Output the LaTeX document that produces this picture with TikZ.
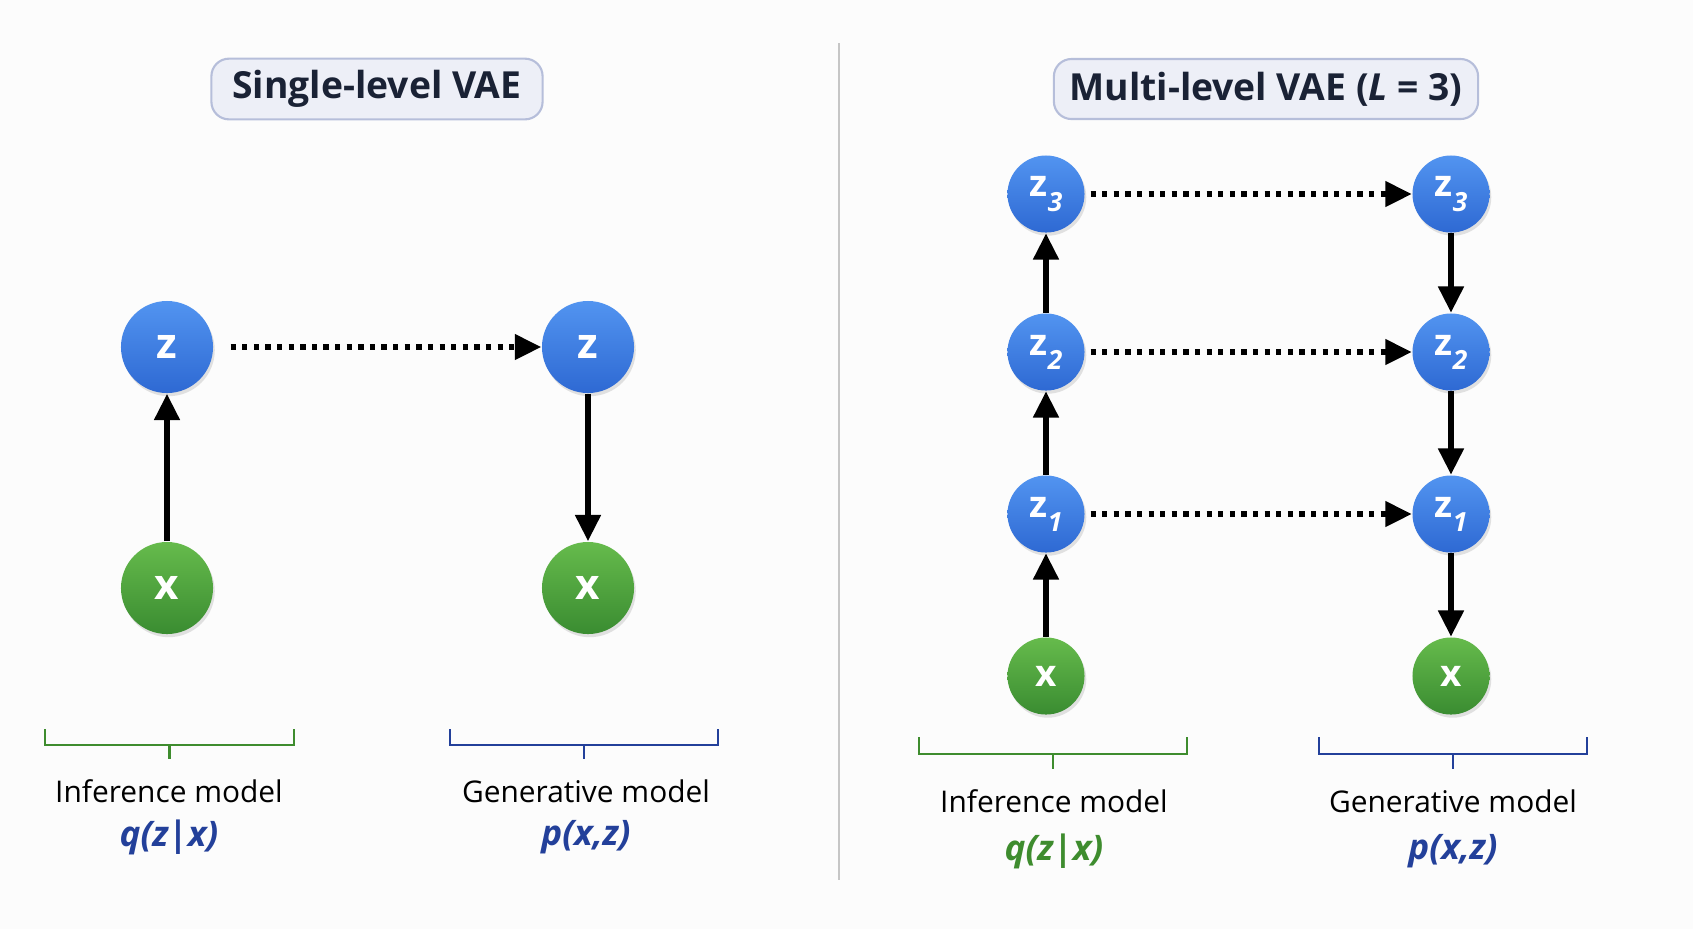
\documentclass[tikz,border=0pt]{standalone}
\usepackage{fontspec}
\setmainfont{Open Sans}
\usetikzlibrary{arrows.meta,shadows}

\definecolor{zbluetop}{HTML}{5294F0}
\definecolor{zbluebot}{HTML}{2E69D3}
\definecolor{xgreentop}{HTML}{66BB4C}
\definecolor{xgreenbot}{HTML}{3A8C31}
\definecolor{infgreen}{HTML}{3E8C2E}
\definecolor{genblue}{HTML}{23409A}
\definecolor{titlefill}{HTML}{EDEFF7}
\definecolor{titledraw}{HTML}{B6BEDA}
\definecolor{titletext}{HTML}{1A2235}

\begin{document}
\begin{tikzpicture}[x=0.01cm,y=-0.01cm,
    >={Triangle[length=7.5pt,width=7pt]},
    nodeshadow/.style={drop shadow={opacity=0.22,shadow xshift=0.5pt,shadow yshift=-0.9pt}},
    zbig/.style={circle,minimum size=0.92cm,inner sep=0pt,top color=zbluetop,bottom color=zbluebot,
        text=white,font=\fontsize{12}{12}\selectfont\bfseries,nodeshadow},
    xbig/.style={zbig,top color=xgreentop,bottom color=xgreenbot},
    zsmall/.style={zbig,minimum size=0.77cm,font=\fontsize{10.5}{10.5}\selectfont\bfseries},
    xsmall/.style={zsmall,top color=xgreentop,bottom color=xgreenbot},
    arrow/.style={->,line width=1.7pt},
    dotarrow/.style={->,line width=1.5pt,dash pattern=on 1.5pt off 1.8pt},
    titlebox/.style={draw=titledraw,fill=titlefill,rounded corners=5pt,line width=0.6pt,
        text=titletext,font=\fontsize{10.6}{13}\selectfont\bfseries},
    modeltext/.style={font=\fontsize{8.5}{10}\selectfont},
    formula/.style={font=\fontsize{10}{11}\selectfont\bfseries\itshape},
    brace/.style={line width=0.7pt}
]
\useasboundingbox (0,0) rectangle (1693,929);
\fill[white!98!gray] (0,0) rectangle (1693,929);

% Divider
\draw[gray!45,line width=0.6pt] (839,43) -- (839,880);

% Titles
\node[titlebox,minimum width=3.31cm,minimum height=0.6cm] (title1) at (377,89) {Single-level VAE};
\node[titlebox,minimum width=4.24cm,minimum height=0.6cm] (title2) at (1266,89) {Multi-level VAE (\textit{L} = 3)};

% Single-level: inference side
\node[zbig] (zq) at (167,347) {z};
\node[xbig] (xq) at (167,588) {x};
\draw[arrow] (xq) -- (zq);

% Single-level: generative side
\node[zbig] (zp) at (588,347) {z};
\node[xbig] (xp) at (588,588) {x};
\draw[arrow] (zp) -- (xp);
\draw[dotarrow,shorten <=4.8pt] (zq) -- (zp);

% Multi-level: inference side
\node[xsmall] (mxq) at (1046,676) {x};
\node[zsmall] (mzq1) at (1046,514) {z\raisebox{-0.7ex}{\fontsize{7.5}{7.5}\selectfont\itshape 1}};
\node[zsmall] (mzq2) at (1046,352) {z\raisebox{-0.7ex}{\fontsize{7.5}{7.5}\selectfont\itshape 2}};
\node[zsmall] (mzq3) at (1046,194) {z\raisebox{-0.7ex}{\fontsize{7.5}{7.5}\selectfont\itshape 3}};
\draw[arrow] (mxq) -- (mzq1);
\draw[arrow] (mzq1) -- (mzq2);
\draw[arrow] (mzq2) -- (mzq3);

% Multi-level: generative side
\node[zsmall] (mzp3) at (1451,194) {z\raisebox{-0.7ex}{\fontsize{7.5}{7.5}\selectfont\itshape 3}};
\node[zsmall] (mzp2) at (1451,352) {z\raisebox{-0.7ex}{\fontsize{7.5}{7.5}\selectfont\itshape 2}};
\node[zsmall] (mzp1) at (1451,514) {z\raisebox{-0.7ex}{\fontsize{7.5}{7.5}\selectfont\itshape 1}};
\node[xsmall] (mxp) at (1451,676) {x};
\draw[arrow] (mzp3) -- (mzp2);
\draw[arrow] (mzp2) -- (mzp1);
\draw[arrow] (mzp1) -- (mxp);

% Dotted links between the two sides
\draw[dotarrow,shorten <=1.5pt] (mzq3) -- (mzp3);
\draw[dotarrow,shorten <=1.5pt] (mzq2) -- (mzp2);
\draw[dotarrow,shorten <=1.5pt] (mzq1) -- (mzp1);

% Braces
\draw[brace,infgreen] (45,729) -- (45,745) -- (294,745) -- (294,729);
\draw[brace,infgreen] (169.5,745) -- (169.5,759);
\draw[brace,genblue] (450,729) -- (450,745) -- (718,745) -- (718,729);
\draw[brace,genblue] (584,745) -- (584,759);
\draw[brace,infgreen] (919,737) -- (919,754) -- (1187,754) -- (1187,737);
\draw[brace,infgreen] (1053,754) -- (1053,769);
\draw[brace,genblue] (1319,737) -- (1319,754) -- (1587,754) -- (1587,737);
\draw[brace,genblue] (1453,754) -- (1453,769);

% Model labels
\node[modeltext] (inf1) at (169,791) {Inference model};
\node[formula,text=genblue] (q1) at (169,837) {q(z|x)};
\node[modeltext] (gen1) at (586,791) {Generative model};
\node[formula,text=genblue] (p1) at (586,837) {p(x,z)};
\node[modeltext] (inf2) at (1054,801) {Inference model};
\node[formula,text=infgreen] (q2) at (1054,851) {q(z|x)};
\node[modeltext] (gen2) at (1453,801) {Generative model};
\node[formula,text=genblue] (p2) at (1453,851) {p(x,z)};

\end{tikzpicture}
\end{document}
